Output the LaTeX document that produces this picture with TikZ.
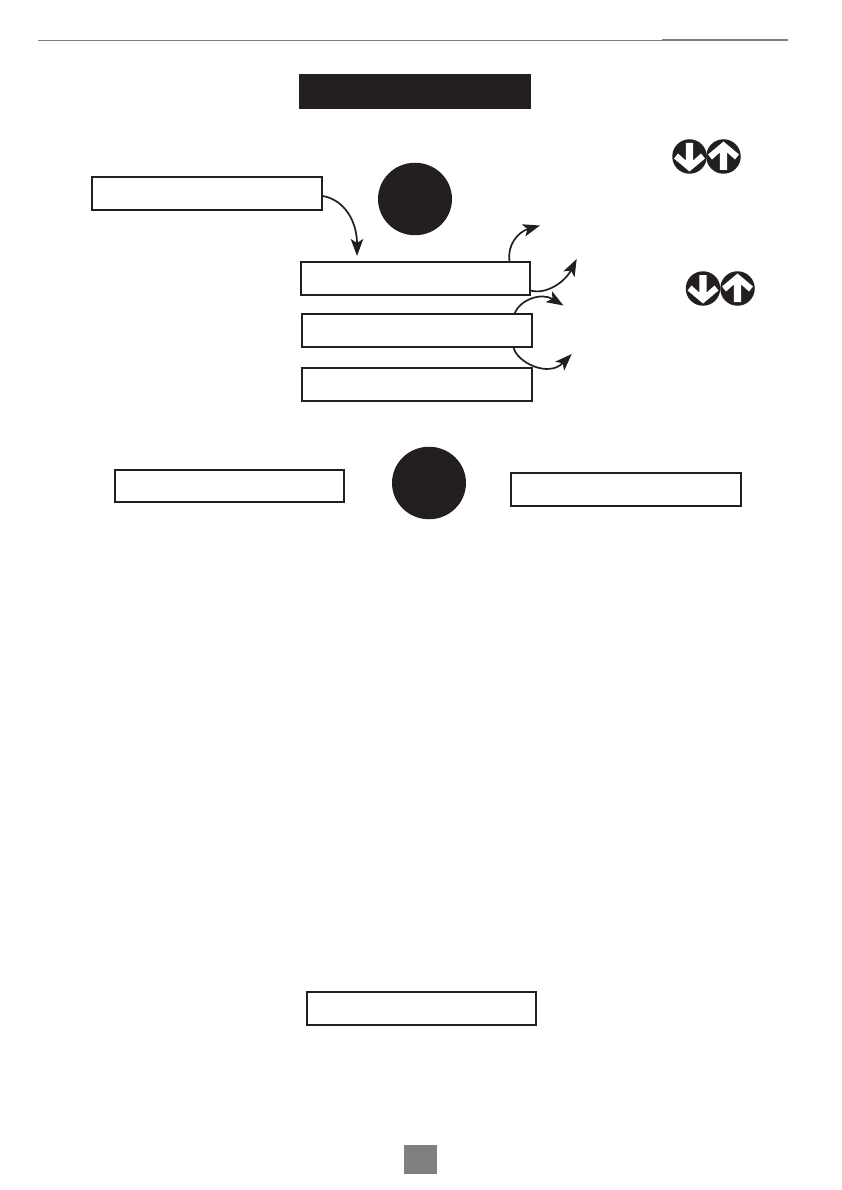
\documentclass[tikz,border=0pt]{standalone}
\usetikzlibrary{arrows.meta,calc,shapes.geometric}
\definecolor{ink}{HTML}{231F20}
\definecolor{greybar}{HTML}{808080}
\tikzset{
  x=1pt,y=-1pt,
  framebox/.style={draw=ink,line width=2pt,fill=white,inner sep=0pt,minimum width=#1,minimum height=32.5pt},
  framebox/.default=230pt,
  disc/.style={fill=ink,inner sep=0pt,ellipse},
  flow/.style={draw=ink,line width=1.7pt,-{Stealth[length=17pt,width=12.5pt,inset=4pt]}},
  keycircle/.style={circle,fill=ink,inner sep=0pt,minimum size=34.5pt},
  whitearrow/.style={fill=white,draw=none},
}
\newcommand{\downkey}[1]{%
  \node[keycircle] (#1) {};
  \fill[whitearrow] ($(#1)+(-3.7,-13.5)$) -- ($(#1)+(3.7,-13.5)$) -- ($(#1)+(3.7,4)$) -- ($(#1)+(11.5,-3)$) -- ($(#1)+(15.5,2)$) -- ($(#1)+(0,15)$) -- ($(#1)+(-15.5,2)$) -- ($(#1)+(-11.5,-3)$) -- ($(#1)+(-3.7,4)$) -- cycle;}
\newcommand{\upkey}[1]{%
  \node[keycircle] (#1) {};
  \fill[whitearrow] ($(#1)+(-3.7,13.5)$) -- ($(#1)+(3.7,13.5)$) -- ($(#1)+(3.7,-4)$) -- ($(#1)+(11.5,3)$) -- ($(#1)+(15.5,-2)$) -- ($(#1)+(0,-15)$) -- ($(#1)+(-15.5,-2)$) -- ($(#1)+(-11.5,3)$) -- ($(#1)+(-3.7,-4)$) -- cycle;}
\begin{document}
\begin{tikzpicture}
\useasboundingbox (0,0) rectangle (842,1190);
% header rule
\coordinate (ruleL) at (38,41);
\coordinate (ruleM) at (662,41);
\coordinate (ruleR) at (788,40.5);
\draw[greybar,line width=1pt] (ruleL) -- (ruleM);
\draw[greybar,line width=2pt] (ruleM |- ruleR) -- (ruleR);
% title bar
\node[fill=ink,inner sep=0pt,minimum width=232pt,minimum height=35pt] (title) at (415,91.5) {};
% discs
\node[disc,minimum width=74pt,minimum height=72.5pt] (discA) at (415,199) {};
\node[disc,minimum width=74pt,minimum height=72.5pt] (discB) at (429,483) {};
% boxes
\node[framebox=229.5pt] (A) at (207,193.5) {};
\node[framebox=229pt] (B) at (415,278.5) {};
\node[framebox=229.5pt,minimum height=33pt] (C) at (417,330.5) {};
\node[framebox=229.5pt,minimum height=33pt] (D) at (417,384) {};
\node[framebox=229pt] (E) at (229.7,486) {};
\node[framebox=229.5pt,minimum height=33pt] (F) at (626,489.5) {};
\node[framebox=229.5pt] (G) at (421.5,1008.5) {};
% page number tab
\node[fill=greybar,inner sep=0pt,minimum width=33pt,minimum height=29.5pt] (page) at (420.5,1159.5) {};
% key icons
\begin{scope}[shift={(689.5,156.5)}]\downkey{kA}\end{scope}
\begin{scope}[shift={(723.5,156.5)}]\upkey{kB}\end{scope}
\begin{scope}[shift={(703,288.5)}]\downkey{kC}\end{scope}
\begin{scope}[shift={(737.5,288.5)}]\upkey{kD}\end{scope}
% free ends
\coordinate (endA) at (357,256);
\coordinate (end1) at (540,225.5);
\coordinate (end2) at (576.7,259);
\coordinate (end3) at (563.5,305.5);
\coordinate (end4) at (571.7,354);
% connectors
\draw[flow] ($(A.east)+(0,2.5)$) .. controls (345,200) and (357,222) .. (endA);
\draw[flow] ($(B.north east)+(-21,0)$) .. controls (507,245) and (518,232) .. (end1);
\draw[flow] ($(B.east)+(0,12)$) .. controls (546,295) and (565,282) .. (end2);
\draw[flow] ($(C.north east)+(-18,0)$) .. controls (520,300) and (541,292) .. (end3);
\draw[flow] ($(C.south east)+(-19,0)$) .. controls (517,362) and (548,378) .. (end4);
\end{tikzpicture}
\end{document}
